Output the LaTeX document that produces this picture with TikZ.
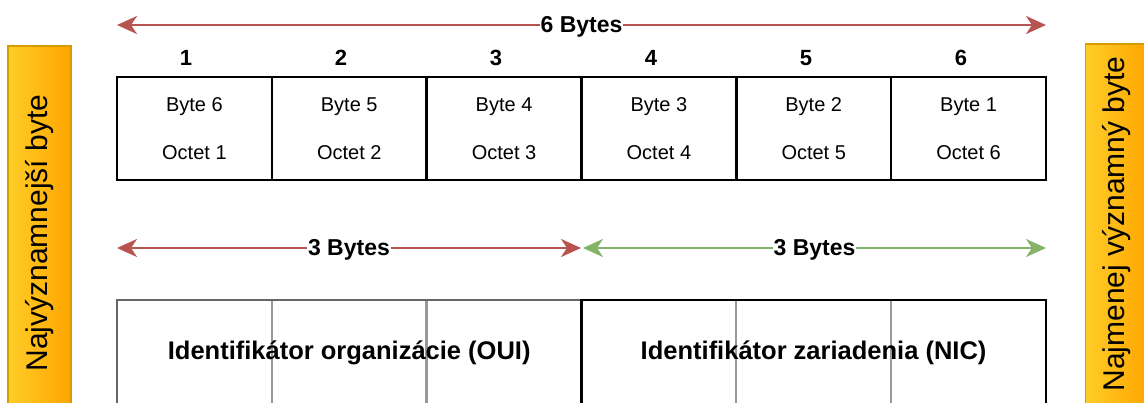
\documentclass[tikz,border=0pt]{standalone}
\usepackage{fontspec}
\setmainfont{Liberation Sans}
\usetikzlibrary{arrows.meta,positioning}
\definecolor{arrowred}{HTML}{B85450}
\definecolor{arrowgreen}{HTML}{82B366}
\definecolor{barfill}{HTML}{FFCD28}
\definecolor{barfilldark}{HTML}{FFA500}
\definecolor{barline}{HTML}{D79B00}
\definecolor{ouigray}{HTML}{666666}
\definecolor{divgray}{HTML}{999999}
\pgfdeclarelayer{background}
\pgfsetlayers{background,main}

\begin{document}
\begin{tikzpicture}[x=1pt,y=-1pt,
  cell/.style={draw,line width=2.5pt,minimum width=154.8pt,minimum height=103pt,
    inner sep=0pt,outer sep=0pt,align=center,font=\fontsize{20}{48}\selectfont},
  num/.style={font=\fontsize{22}{26}\selectfont\bfseries},
  lbl/.style={fill=white,inner sep=1pt,yshift=-2pt,text=black,font=\fontsize{23}{27}\selectfont\bfseries},
  bytespan/.style={line width=2.5pt,
    {Stealth[length=20pt,width=18pt,inset=6pt]}-{Stealth[length=20pt,width=18pt,inset=6pt]}},
  group/.style={draw,line width=2.5pt,minimum width=464.4pt,minimum height=106pt,
    inner sep=0pt,outer sep=0pt,font=\fontsize{25.5}{30}\selectfont\bfseries},
  divider/.style={divgray,line width=2.5pt},
  bar/.style={draw=barline,line width=1.5pt,left color=barfill,right color=barfilldark,
    minimum width=63pt,minimum height=374pt,inner sep=0pt},
  barlabel/.style={rotate=90,font=\fontsize{30}{36}\selectfont}]
\useasboundingbox (0,0) rectangle (1144,403);
\clip (0,0) rectangle (1144,403);
%
\node[bar] (msbar) at (39.5,233) {};
\node[barlabel] (mslabel) at (msbar.center) {Najvýznamnejší byte};
\node[bar] (lsbar) at (1117,231) {};
\node[barlabel] (lslabel) at ([yshift=7pt]lsbar.center) {Najmenej významný byte};
%
\foreach \i/\b in {1/6,2/5,3/4,4/3,5/2,6/1}{
  \node[cell] (cell\i) at ({117+154.83*(\i-0.5)},128.5) {Byte \b\\Octet \i};
  \node[num] (num\i) at ({186+155*(\i-1)},58) {\i};
}
%
\coordinate (allL) at (117,25);
\coordinate (allR) at (1046,25);
\draw[bytespan,arrowred] (allL) -- node[lbl] (allbytes) {6 Bytes} (allR);
%
\coordinate (ouiL) at (117,248);
\coordinate (ouiR) at (581,248);
\coordinate (nicL) at (583,248);
\coordinate (nicR) at (1046,248);
\draw[bytespan,arrowred] (ouiL) -- node[lbl] (ouibytes) {3 Bytes} (ouiR);
\draw[bytespan,arrowgreen] (nicL) -- node[lbl] (nicbytes) {3 Bytes} (nicR);
%
\node[group,draw=ouigray] (oui) at (349.2,353) {Identifikátor organizácie (OUI)};
\node[group] (nic) at (813.6,353) {Identifikátor zariadenia (NIC)};
\begin{pgfonlayer}{background}
\foreach \g in {oui,nic}{
  \draw[divider] ([xshift=154.8pt]\g.north west) -- ([xshift=154.8pt]\g.south west);
  \draw[divider] ([xshift=309.6pt]\g.north west) -- ([xshift=309.6pt]\g.south west);
}
\end{pgfonlayer}
\end{tikzpicture}
\end{document}
